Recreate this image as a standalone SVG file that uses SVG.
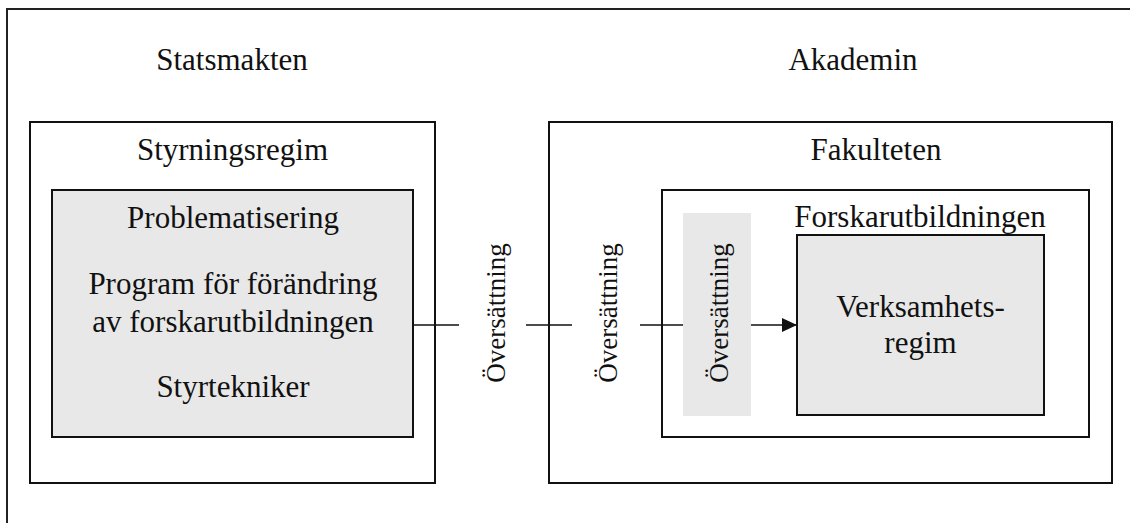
<svg xmlns="http://www.w3.org/2000/svg" width="1130" height="523" viewBox="0 0 1130 523">
<style>
.box{fill:#fff;stroke:#111;stroke-width:2}
.gbox{fill:#e8e8e8;stroke:#111;stroke-width:2}
.bar{fill:#e8e8e8;stroke:none}
.t{font-family:"Liberation Serif","Times New Roman",serif;font-size:31px;fill:#111;text-anchor:middle}
.r{font-family:"Liberation Serif","Times New Roman",serif;font-size:27px;fill:#111;text-anchor:middle}
.c{stroke:#111;stroke-width:1.5;fill:none}
</style>
<defs>
<marker id="arr" markerWidth="16" markerHeight="14" refX="15" refY="7" orient="auto" markerUnits="userSpaceOnUse">
<path d="M0,0 L15,7 L0,14 Z" fill="#111"/>
</marker>
</defs>
<rect width="1130" height="523" fill="#fff"/>
<g id="frame">
<rect x="7" y="9" width="1140" height="540" fill="none" stroke="#222" stroke-width="2"/>
<text class="t" x="232" y="70">Statsmakten</text>
<text class="t" x="853" y="70">Akademin</text>
</g>
<g id="styrningsregim">
<rect class="box" x="30" y="122" width="405" height="361"/>
<text class="t" x="232.5" y="160">Styrningsregim</text>
</g>
<g id="program">
<rect class="gbox" x="52" y="190" width="361" height="247"/>
<text class="t" x="233" y="228">Problematisering</text>
<text class="t" x="233" y="294">Program för förändring</text>
<text class="t" x="233" y="332">av forskarutbildningen</text>
<text class="t" x="233" y="397">Styrtekniker</text>
</g>
<g id="fakulteten">
<rect class="box" x="549" y="122" width="563" height="361"/>
<text class="t" x="876" y="160">Fakulteten</text>
</g>
<g id="forskarutbildningen">
<rect class="box" x="662" y="190" width="427" height="247"/>
<text class="t" x="920" y="227">Forskarutbildningen</text>
</g>
<g id="oversattning3">
<rect class="bar" x="683" y="213" width="68" height="203"/>
<text class="r" transform="translate(728,313) rotate(-90)">Översättning</text>
</g>
<g id="verksamhetsregim">
<rect class="gbox" x="797" y="235" width="247" height="180"/>
<text class="t" x="920.5" y="317">Verksamhets-</text>
<text class="t" x="920.5" y="353">regim</text>
</g>
<g id="oversattning1">
<text class="r" transform="translate(505,313) rotate(-90)">Översättning</text>
</g>
<g id="oversattning2">
<text class="r" transform="translate(617,313) rotate(-90)">Översättning</text>
</g>
<g id="connectors">
<line class="c" x1="413" y1="325" x2="459" y2="325"/>
<line class="c" x1="526" y1="325" x2="572" y2="325"/>
<line class="c" x1="640" y1="325" x2="683" y2="325"/>
<line class="c" x1="751" y1="325" x2="797" y2="325" marker-end="url(#arr)"/>
</g>
</svg>
